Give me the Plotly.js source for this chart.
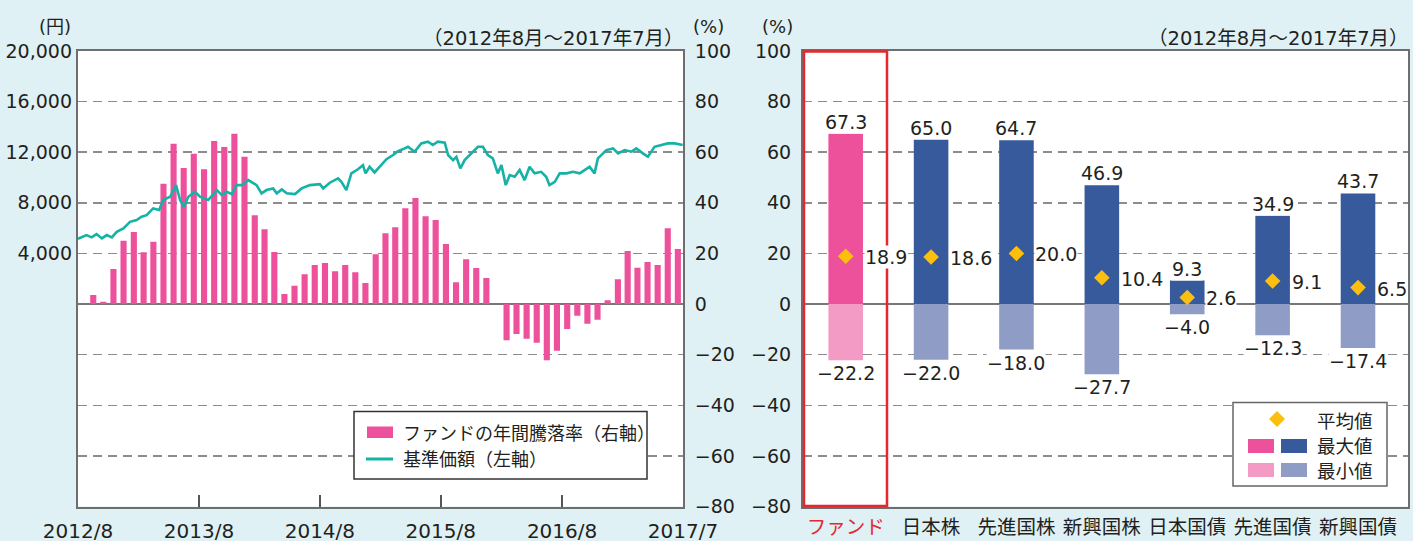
<!DOCTYPE html>
<html><head><meta charset="utf-8">
<script src="https://cdn.plot.ly/plotly-3.0.1.min.js"></script>
<style>html,body{margin:0;padding:0;background:#dff1f4;}#c{width:1413px;height:541px;}</style>
</head><body><div id="c"></div>
<script>
// ---- Left chart data ----
const barStartYear = 2012, barStartMonth = 9, barCount = 59;
const fundReturns = [3.6,0.9,13.9,25.0,28.5,20.5,24.6,47.5,63.3,53.8,59.4,53.3,64.4,62.1,67.3,58.2,
  35.1,29.6,20.6,4.0,7.2,11.8,15.4,16.2,13.0,15.4,12.6,8.3,19.7,28.0,30.4,37.9,41.9,34.7,33.2,23.7,
  8.6,17.7,14.2,10.3,0,-14.3,-11.8,-13.7,-15.3,-22.2,-18.5,-9.9,-4.6,-7.8,-6.2,1.5,9.8,21.0,14.3,16.6,15.4,30.0,21.8];
const navDates = ['2012-08-01','2012-08-27','2012-09-11','2012-09-26','2012-10-12','2012-10-27','2012-11-11','2012-11-26',
 '2012-12-16','2013-01-05','2013-01-25','2013-02-09','2013-02-24','2013-03-16','2013-04-03','2013-04-15','2013-05-06',
 '2013-05-24','2013-06-05','2013-06-17','2013-06-30','2013-07-20','2013-08-04','2013-08-29','2013-09-24','2013-10-09',
 '2013-10-24','2013-11-08','2013-11-23','2013-12-08','2013-12-28','2014-01-22','2014-02-06','2014-02-21','2014-03-13',
 '2014-03-24','2014-04-08','2014-04-23','2014-05-18','2014-06-07','2014-07-02','2014-08-01','2014-08-11','2014-08-31',
 '2014-09-25','2014-10-05','2014-10-20','2014-11-04','2014-11-24','2014-12-09','2014-12-17','2014-12-29','2015-01-13',
 '2015-01-28','2015-02-18','2015-03-10','2015-03-25','2015-04-14','2015-04-24','2015-05-14','2015-06-03','2015-06-23',
 '2015-07-08','2015-07-23','2015-08-13','2015-08-23','2015-09-07','2015-09-17','2015-09-29','2015-10-12','2015-11-01',
 '2015-11-21','2015-12-06','2015-12-21','2016-01-05','2016-01-20','2016-01-31','2016-02-13','2016-02-25','2016-03-11',
 '2016-03-26','2016-04-10','2016-04-25','2016-05-10','2016-05-30','2016-06-14','2016-06-24','2016-07-10','2016-07-25',
 '2016-08-14','2016-09-03','2016-09-23','2016-10-08','2016-10-23','2016-11-07','2016-11-17','2016-12-13','2017-01-02',
 '2017-01-17','2017-02-06','2017-02-26','2017-03-13','2017-04-02','2017-04-17','2017-05-07','2017-05-27','2017-06-16',
 '2017-07-07','2017-07-31'];
const navValues = [5160,5450,5270,5530,5190,5450,5270,5710,5980,6500,6640,6900,7030,7560,7430,8220,8480,9400,8220,7690,
 8480,8870,8480,8220,9010,8610,8870,8690,9400,9400,9800,9400,8750,9010,9140,8750,9060,8750,8690,9140,9400,9480,9140,9590,
 9930,9660,9010,10330,10650,10980,10330,10850,10400,10850,11450,11780,12080,12300,12430,12040,12700,12830,12570,12830,
 12750,11780,11380,11640,10720,11380,11910,12430,12430,11780,11510,10330,10980,9400,10190,10060,10590,9800,10850,10330,
 10450,10060,9400,9660,10330,10330,10450,10330,10590,10850,10330,11510,12170,12300,11910,12170,12040,12300,11910,11640,
 12430,12570,12700,12700,12570];
const xTickDates = ['2012-08-01','2013-08-01','2014-08-01','2015-08-01','2016-08-01','2017-08-01'];
const xTickLabels = ['2012/8','2013/8','2014/8','2015/8','2016/8','2017/7'];
const yenTicks = [4000,8000,12000,16000,20000];
const periodText = '（2012年8月～2017年7月）';
const legendLeft = ['ファンドの年間騰落率（右軸）','基準価額（左軸）'];

// ---- Right chart data ----
const categories = ['ファンド','日本株','先進国株','新興国株','日本国債','先進国債','新興国債'];
const maxVals = [67.3,65.0,64.7,46.9,9.3,34.9,43.7];
const minVals = [-22.2,-22.0,-18.0,-27.7,-4.0,-12.3,-17.4];
const meanVals = [18.9,18.6,20.0,10.4,2.6,9.1,6.5];
const legendRight = ['平均値','最大値','最小値'];

// ---- styling ----
const W = 1413, H = 541;
const FONT = 'DejaVu Sans, "Noto Sans CJK JP", sans-serif';
const JP = '"Noto Sans CJK JP", sans-serif';
const TXT = '#231f20';
const PINK = '#ee519b', PINK_L = '#f39bc4', BLUE = '#365a9c', BLUE_L = '#8e9cc6', GOLD = '#fcbf10', TEAL = '#15b2a5', RED = '#e8262d';
const px = x => x / W, py = y => 1 - y / H;
const yDom = [py(506.5), py(51)];
const xDomL = [px(78), px(683)], xDomR = [px(803), px(1408)];

const months = [];
for (let i = 0; i < barCount; i++) {
  const t = (barStartMonth - 1) + i;
  const yy = barStartYear + Math.floor(t / 12), mm = (t % 12) + 1;
  months.push(yy + '-' + String(mm).padStart(2, '0'));
}
const fmt = v => (v < 0 ? '−' + Math.abs(v).toFixed(1) : v.toFixed(1));

const traces = [
  {type:'bar', x: months, y: fundReturns, xaxis:'x', yaxis:'y', xperiod:'M1', xperiodalignment:'middle',
   width: 18.5*86400000, marker:{color:PINK, line:{width:0}}, showlegend:false, hoverinfo:'skip'},
  {type:'scatter', mode:'lines', x: navDates, y: navValues, xaxis:'x', yaxis:'y2',
   line:{color:TEAL, width:2.6}, showlegend:false, hoverinfo:'skip'},
  {type:'bar', x: categories, y: maxVals, xaxis:'x2', yaxis:'y3', width:0.405,
   marker:{color: categories.map((c,i)=> i===0 ? PINK : BLUE)}, showlegend:false, hoverinfo:'skip'},
  {type:'bar', x: categories, y: minVals, xaxis:'x2', yaxis:'y3', width:0.405,
   marker:{color: categories.map((c,i)=> i===0 ? PINK_L : BLUE_L)}, showlegend:false, hoverinfo:'skip'},
  {type:'scatter', mode:'markers', x: categories, y: meanVals, xaxis:'x2', yaxis:'y3',
   marker:{symbol:'diamond', size:12, color:GOLD, line:{width:0}}, showlegend:false, hoverinfo:'skip'}
];

const grid = {showgrid:true, gridcolor:'#8c8c8c', gridwidth:1.5, griddash:'9px,6px'};
const frame = {showline:true, linecolor:'#6e6e6e', linewidth:2};

const annotations = [];
const shapes = [];
// unit labels
annotations.push({xref:'paper', yref:'paper', x:px(73), y:py(27), xanchor:'right', yanchor:'middle', text:'(円)', showarrow:false, font:{family:FONT, size:18, color:TXT}});
annotations.push({xref:'paper', yref:'paper', x:px(691), y:py(27), xanchor:'left', yanchor:'middle', text:'(%)', showarrow:false, font:{family:FONT, size:18, color:TXT}});
annotations.push({xref:'paper', yref:'paper', x:px(795), y:py(27), xanchor:'right', yanchor:'middle', text:'(%)', showarrow:false, font:{family:FONT, size:18, color:TXT}});
annotations.push({xref:'paper', yref:'paper', x:px(686), y:py(38), xanchor:'right', yanchor:'middle', text:periodText, showarrow:false, font:{family:FONT, size:19.5, color:TXT}});
annotations.push({xref:'paper', yref:'paper', x:px(1411), y:py(38), xanchor:'right', yanchor:'middle', text:periodText, showarrow:false, font:{family:FONT, size:19.5, color:TXT}});

// right chart value labels
categories.forEach((c,i)=>{
  annotations.push({xref:'x2', yref:'y3', x:c, y:maxVals[i], xanchor:'center', yanchor:'bottom', yshift:0, text:fmt(maxVals[i]), showarrow:false, bgcolor:'white', borderpad:0, font:{family:FONT, size:19, color:TXT}});
  annotations.push({xref:'x2', yref:'y3', x:c, y:minVals[i], xanchor:'center', yanchor:'top', yshift:-1, text:fmt(minVals[i]), showarrow:false, bgcolor:'white', borderpad:0, font:{family:FONT, size:19, color:TXT}});
  annotations.push({xref:'x2', yref:'y3', x:c, y:meanVals[i], xanchor:'left', yanchor:'middle', xshift:18, yshift:-1, text:fmt(meanVals[i]), showarrow:false, bgcolor:'white', borderpad:0, font:{family:FONT, size:19, color:TXT}});
});

// red highlight box around fund category
shapes.push({type:'rect', layer:'above', xref:'paper', yref:'paper', x0:px(804), x1:px(887), y0:py(506), y1:py(51.5), line:{color:RED, width:2.5}, fillcolor:'rgba(0,0,0,0)'});

// left legend (drawn)
shapes.push({type:'rect', layer:'above', xref:'paper', yref:'paper', x0:px(354), x1:px(647), y0:py(479), y1:py(411.5), line:{color:'#333', width:1.5}, fillcolor:'white'});
shapes.push({type:'rect', layer:'above', xref:'paper', yref:'paper', x0:px(367), x1:px(393), y0:py(438), y1:py(426.5), line:{width:0}, fillcolor:PINK});
shapes.push({type:'line', layer:'above', xref:'paper', yref:'paper', x0:px(366), x1:px(393), y0:py(459), y1:py(459), line:{color:TEAL, width:3}});
annotations.push({xref:'paper', yref:'paper', x:px(401), y:py(432), xanchor:'left', yanchor:'middle', text:legendLeft[0], showarrow:false, font:{family:JP, size:18, color:TXT}});
annotations.push({xref:'paper', yref:'paper', x:px(401), y:py(458), xanchor:'left', yanchor:'middle', text:legendLeft[1], showarrow:false, font:{family:JP, size:18, color:TXT}});

// right legend (drawn)
shapes.push({type:'rect', layer:'above', xref:'paper', yref:'paper', x0:px(1233), x1:px(1387), y0:py(486), y1:py(402.5), line:{color:'#666', width:1.5}, fillcolor:'white'});
shapes.push({type:'path', layer:'above', xref:'paper', yref:'paper',
  path:`M ${px(1277)} ${py(411)} L ${px(1285)} ${py(419)} L ${px(1277)} ${py(427)} L ${px(1269)} ${py(419)} Z`, line:{width:0}, fillcolor:GOLD});
shapes.push({type:'rect', layer:'above', xref:'paper', yref:'paper', x0:px(1248), x1:px(1274), y0:py(453), y1:py(439), line:{width:0}, fillcolor:PINK});
shapes.push({type:'rect', layer:'above', xref:'paper', yref:'paper', x0:px(1281), x1:px(1307), y0:py(453), y1:py(439), line:{width:0}, fillcolor:BLUE});
shapes.push({type:'rect', layer:'above', xref:'paper', yref:'paper', x0:px(1248), x1:px(1274), y0:py(477), y1:py(463), line:{width:0}, fillcolor:PINK_L});
shapes.push({type:'rect', layer:'above', xref:'paper', yref:'paper', x0:px(1281), x1:px(1307), y0:py(477), y1:py(463), line:{width:0}, fillcolor:BLUE_L});
[420, 445, 470].forEach((yy,i)=>{
  annotations.push({xref:'paper', yref:'paper', x:px(1315), y:py(yy), xanchor:'left', yanchor:'middle', text:legendRight[i], showarrow:false, font:{family:JP, size:18.5, color:TXT}});
});

const layout = {
  width:W, height:H, margin:{l:0,r:0,t:0,b:0},
  paper_bgcolor:'#dff1f4', plot_bgcolor:'white',
  barmode:'relative', showlegend:false,
  font:{family:FONT, size:19, color:TXT},
  xaxis:Object.assign({domain:xDomL, anchor:'y', type:'date', range:['2012-08-01','2017-08-01'],
    tickmode:'array', tickvals:xTickDates, ticktext:xTickLabels, ticks:'inside', ticklen:12, tickwidth:2, tickcolor:'#555',
    showgrid:false, zeroline:false, mirror:true, tickfont:{family:FONT, size:20, color:TXT}, ticklabelstandoff:5}, frame),
  yaxis:Object.assign({domain:yDom, anchor:'x', side:'right', range:[-80,100], tickmode:'linear', tick0:0, dtick:20,
    zeroline:true, zerolinecolor:'#777', zerolinewidth:2, mirror:true, ticks:'', tickfont:{family:FONT, size:19, color:TXT},
    ticklabelstandoff:6}, grid, frame),
  yaxis2:{domain:yDom, anchor:'x', overlaying:'y', side:'left', range:[-16000,20000], tickmode:'array', tickvals:yenTicks,
    tickformat:',d', showgrid:false, zeroline:false, showline:false, ticks:'', tickfont:{family:FONT, size:19, color:TXT},
    ticklabelstandoff:5},
  xaxis2:Object.assign({domain:xDomR, anchor:'y3', type:'category', tickmode:'array', tickvals:categories,
    ticktext:categories.map((c,i)=> i===0 ? '<span style="color:'+RED+'">'+c+'</span>' : c),
    ticks:'', showgrid:false, zeroline:false, mirror:true, tickfont:{family:JP, size:19.5, color:TXT}, ticklabelstandoff:2}, frame),
  yaxis3:Object.assign({domain:yDom, anchor:'x2', range:[-80,100], tickmode:'linear', tick0:0, dtick:20,
    zeroline:true, zerolinecolor:'#777', zerolinewidth:2, mirror:true, ticks:'', tickfont:{family:FONT, size:19, color:TXT},
    ticklabelstandoff:6}, grid, frame),
  annotations: annotations,
  shapes: shapes
};

Plotly.newPlot('c', traces, layout, {staticPlot:true, displayModeBar:false});
</script>
</body></html>
